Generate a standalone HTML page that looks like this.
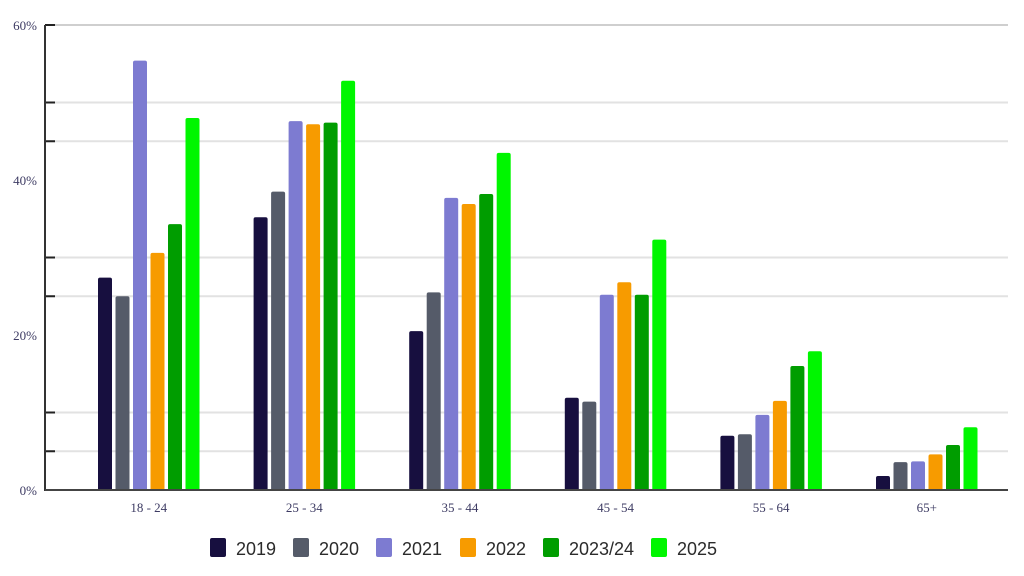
<!DOCTYPE html>
<html><head><meta charset="utf-8"><style>
body{margin:0;background:#fff;width:1024px;height:576px;overflow:hidden}
svg{display:block}
.tick{font-family:"Liberation Serif",serif;font-size:13px;fill:#3d3b63}
.leg{font-family:"Liberation Sans",sans-serif;font-size:18px;fill:#2b2b2b}
</style></head><body>
<svg id="chart" width="1024" height="576"></svg>
<script>
const categories=["18 - 24","25 - 34","35 - 44","45 - 54","55 - 64","65+"];
const seriesNames=["2019","2020","2021","2022","2023/24","2025"];
const colors=["#170f3f","#555b69","#7d7bd1","#f79b00","#009d00","#00f600"];
const v2019=[27.4,35.2,20.5,11.9,7.0,1.8];
const v2020=[25.0,38.5,25.5,11.4,7.2,3.6];
const v2021=[55.4,47.6,37.7,25.2,9.7,3.7];
const v2022=[30.6,47.2,36.9,26.8,11.5,4.6];
const v2023=[34.3,47.4,38.2,25.2,16.0,5.8];
const v2025=[48.0,52.8,43.5,32.3,17.9,8.1];
const yLabels=["0%","20%","40%","60%"];
const labelVals=[0,20,40,60];
const gridVals=[5,10,25,30,45,50,60];
const series=[v2019,v2020,v2021,v2022,v2023,v2025];
const NS="http://www.w3.org/2000/svg";
const svg=document.getElementById('chart');
const y0=490,yTop=25,axisX=45,right=1008;
const y=v=>y0-(v/60)*(y0-yTop);
const groupX=i=>98+i*155.6;
function mk(t,a){const e=document.createElementNS(NS,t);for(const k in a)e.setAttribute(k,a[k]);svg.appendChild(e);return e;}
gridVals.forEach(g=>{
 const l=mk('line',{x1:axisX,x2:right,y1:y(g),y2:y(g),stroke:g%20===0?'#cfcfcf':'#e2e2e2','stroke-width':2});
 
 
 const t=mk('line',{x1:axisX,x2:axisX+10,y1:y(g),y2:y(g),stroke:'#222','stroke-width':2});
 
 
});
series.forEach((s,si)=>{
 s.forEach((v,ci)=>{
  const x=groupX(ci)+si*17.5,top=y(v),w=14,h=y0-top,r=2;
  const p=mk('path',{d:`M${x},${y0}V${top+r}Q${x},${top} ${x+r},${top}H${x+w-r}Q${x+w},${top} ${x+w},${top+r}V${y0}Z`,fill:colors[si]});
  
  
 });
});
const ax=mk('line',{x1:axisX,x2:axisX,y1:yTop,y2:y0+1,stroke:'#333','stroke-width':2});


const bx=mk('line',{x1:axisX,x2:right,y1:y0,y2:y0,stroke:'#444','stroke-width':2});


labelVals.forEach((v,i)=>{
 const t=mk('text',{x:37,y:y(v)+5,'text-anchor':'end',class:'tick'});t.textContent=yLabels[i];
 
 
});
categories.forEach((c,i)=>{
 const t=mk('text',{x:groupX(i)+50.75,y:512,'text-anchor':'middle',class:'tick'});t.textContent=c;
 
 
});
const legX=[210,293,376,460,543,651];
seriesNames.forEach((n,i)=>{
 const r=mk('rect',{x:legX[i],y:538,width:16,height:19,rx:2,fill:colors[i]});
 
 
 const t=mk('text',{x:legX[i]+26,y:555,class:'leg'});t.textContent=n;
 
 
});
</script>
</body></html>
